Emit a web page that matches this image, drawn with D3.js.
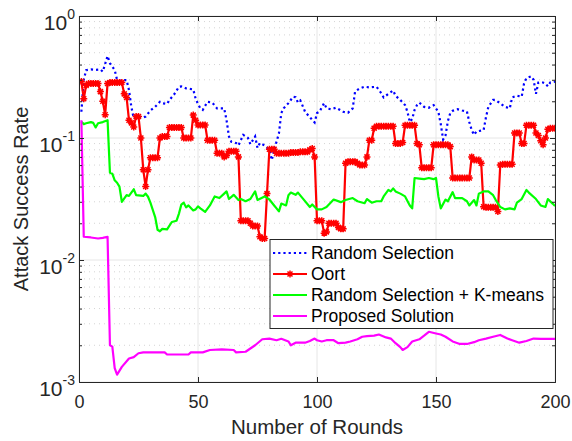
<!DOCTYPE html>
<html>
<head>
<meta charset="utf-8">
<script src="https://cdn.jsdelivr.net/npm/d3@7"></script>
<style>
  body { margin: 0; background: #fff; }
  svg { font-family: "Liberation Sans", Arial, sans-serif; }
</style>
</head>
<body>
<svg id="vis" width="572" height="441"></svg>
<script>
// rounds 1..200
let roundsAll = d3.range(1, 201);

let randRounds = [1,2,3,5,7,9,10,12,13,15,16,17,19,20,21,22,23,25,27,28,30,32,34,35,37,38,40,42,43,45,48,49,50,51,52,54,56,58,61,62,63,64,66,67,69,71,72,74,75,76,78,80,81,82,84,85,86,88,90,91,92,93,95,97,99,100,101,103,104,106,108,111,113,115,116,117,118,120,122,125,127,128,130,132,133,135,137,138,139,140,141,142,143,145,147,148,149,151,152,153,154,155,156,157,159,161,163,164,165,166,167,169,170,171,172,174,175,177,179,181,182,184,186,187,188,190,191,192,193,195,196,197,198,200];
let randValues = [0.164,0.30,0.36,0.365,0.362,0.365,0.35,0.47,0.41,0.36,0.30,0.295,0.298,0.298,0.247,0.18,0.145,0.15,0.147,0.15,0.168,0.18,0.198,0.193,0.19,0.205,0.228,0.263,0.265,0.255,0.25,0.21,0.19,0.175,0.17,0.198,0.195,0.175,0.175,0.14,0.103,0.093,0.091,0.087,0.106,0.1,0.089,0.103,0.083,0.091,0.087,0.08,0.066,0.08,0.109,0.16,0.175,0.193,0.218,0.216,0.195,0.203,0.164,0.148,0.134,0.16,0.164,0.193,0.175,0.172,0.177,0.164,0.161,0.175,0.24,0.248,0.255,0.263,0.26,0.263,0.233,0.215,0.23,0.245,0.222,0.205,0.186,0.164,0.135,0.143,0.17,0.186,0.195,0.18,0.177,0.183,0.186,0.164,0.13,0.097,0.105,0.138,0.16,0.167,0.172,0.168,0.165,0.135,0.116,0.106,0.113,0.115,0.116,0.148,0.18,0.205,0.205,0.192,0.18,0.175,0.215,0.222,0.218,0.28,0.31,0.32,0.30,0.23,0.285,0.285,0.28,0.265,0.285,0.29];

let oortValues = [
  0.29,0.21,0.27,0.28,0.28,0.28,0.28,0.28,0.24,0.2,
  0.155,0.28,0.285,0.285,0.285,0.285,0.285,0.285,0.23,0.215,
  0.14,0.133,0.123,0.15,0.15,0.1,0.055,0.04,0.055,0.069,
  0.069,0.069,0.069,0.1,0.103,0.103,0.103,0.122,0.122,0.122,
  0.122,0.122,0.122,0.1,0.1,0.1,0.1,0.154,0.14,0.128,
  0.128,0.128,0.128,0.096,0.096,0.096,0.096,0.075,0.075,0.075,
  0.07,0.072,0.078,0.078,0.078,0.078,0.07,0.021,0.021,0.021,
  0.021,0.02,0.019,0.019,0.019,0.0155,0.015,0.015,0.035,0.081,
  0.081,0.081,0.075,0.075,0.075,0.075,0.075,0.075,0.076,0.076,
  0.076,0.076,0.077,0.077,0.077,0.077,0.08,0.082,0.07,0.021,
  0.021,0.021,0.0166,0.017,0.02,0.02,0.02,0.02,0.0185,0.018,
  0.018,0.062,0.064,0.064,0.064,0.064,0.062,0.06,0.06,0.06,
  0.07,0.096,0.096,0.12,0.125,0.125,0.125,0.125,0.125,0.125,
  0.125,0.125,0.09,0.09,0.09,0.092,0.127,0.127,0.127,0.127,
  0.127,0.09,0.088,0.057,0.057,0.057,0.057,0.057,0.088,0.088,
  0.088,0.088,0.088,0.088,0.088,0.085,0.047,0.047,0.047,0.047,
  0.047,0.047,0.047,0.047,0.07,0.066,0.066,0.066,0.062,0.0273,
  0.027,0.027,0.027,0.027,0.027,0.025,0.06,0.061,0.061,0.061,
  0.061,0.061,0.11,0.11,0.11,0.09,0.09,0.127,0.127,0.127,
  0.127,0.11,0.105,0.095,0.088,0.1,0.118,0.12,0.12,0.12
];

let kmRounds = [1,2,3,5,6,7,8,10,12,13,14,15,16,17,18,20,21,23,24,27,28,29,30,32,33,34,35,37,39,41,42,43,44,45,46,48,49,50,51,53,55,57,59,61,62,63,65,67,68,70,72,74,75,78,80,82,83,84,85,87,88,89,91,92,94,97,98,100,102,104,107,110,112,115,117,120,121,123,125,127,128,130,131,132,133,135,137,139,140,141,143,145,147,149,150,151,152,154,155,157,158,161,163,164,166,167,168,170,172,174,175,177,179,181,183,184,186,188,189,192,194,196,197,199,200];
let kmValues = [0.136,0.13,0.132,0.135,0.133,0.122,0.132,0.135,0.14,0.052,0.051,0.045,0.043,0.04,0.03,0.034,0.0335,0.038,0.034,0.0335,0.035,0.033,0.0295,0.0225,0.0177,0.0172,0.018,0.0178,0.0205,0.021,0.024,0.0285,0.0295,0.027,0.028,0.0255,0.026,0.0275,0.0265,0.0248,0.028,0.0332,0.0322,0.035,0.0365,0.0316,0.0342,0.031,0.0316,0.0303,0.0316,0.0365,0.031,0.0332,0.0313,0.028,0.0265,0.025,0.029,0.028,0.034,0.0357,0.0342,0.0357,0.032,0.0272,0.0285,0.026,0.026,0.0272,0.0313,0.0298,0.031,0.0322,0.0303,0.0292,0.0316,0.0295,0.0303,0.0303,0.0332,0.0375,0.0365,0.0386,0.0365,0.035,0.0332,0.028,0.0265,0.047,0.0465,0.046,0.047,0.046,0.047,0.0332,0.0265,0.0313,0.0303,0.036,0.0322,0.0322,0.0303,0.028,0.031,0.028,0.035,0.0365,0.0365,0.034,0.0313,0.0272,0.026,0.0265,0.026,0.0295,0.0316,0.0375,0.0357,0.0316,0.028,0.0272,0.0316,0.029,0.0277];

let propRounds = [1,2,5,8,10,12,13,14,15,16,18,21,23,25,27,36,37,46,47,52,55,60,65,66,70,74,77,80,83,85,88,89,91,95,97,99,100,102,104,107,109,112,114,117,119,121,124,126,129,131,133,135,136,138,140,143,145,147,150,152,154,157,160,163,166,168,171,174,177,180,182,185,188,191,194,200];
let propValues = [0.14,0.0155,0.0153,0.015,0.0152,0.0155,0.002,0.00195,0.0013,0.00115,0.00133,0.00156,0.0016,0.00172,0.00175,0.00175,0.00168,0.00168,0.00175,0.00175,0.00183,0.00185,0.00183,0.00175,0.00177,0.002,0.00224,0.00227,0.0022,0.00226,0.00215,0.002,0.0021,0.0021,0.00217,0.00227,0.0022,0.00215,0.0022,0.0022,0.00208,0.0021,0.00215,0.00224,0.00235,0.00238,0.0024,0.00245,0.00232,0.00227,0.00208,0.00193,0.00183,0.00193,0.00215,0.00224,0.0024,0.00258,0.0025,0.00245,0.00235,0.00215,0.00205,0.00205,0.00212,0.0022,0.00227,0.00235,0.00243,0.00227,0.0022,0.0021,0.00217,0.00227,0.00226,0.00226];

let xTicks = [0, 50, 100, 150, 200];
let yDecades = [1e-3, 1e-2, 1e-1, 1];
let yExponents = ["-3", "-2", "-1", "0"];
let legendNames = ["Random Selection", "Oort", "Random Selection + K-means", "Proposed Solution"];

function draw() {
    let margin = { top: 16, right: 17, bottom: 59, left: 79 };
    let svg = d3.select("#vis");
    let width = +svg.attr("width") - margin.left - margin.right;
    let height = +svg.attr("height") - margin.top - margin.bottom;
    let axisColor = "#262626";

    let x = d3.scaleLinear().domain([0, 200]).range([0, width]);
    let y = d3.scaleLog().domain([1e-3, 1]).range([height, 0]);

    let g = svg.append("g").attr("transform", `translate(${margin.left}, ${margin.top})`);

    let minorVals = [];
    yDecades.slice(0, 3).forEach(d => {
        for (let k = 2; k <= 9; k++) minorVals.push(d * k);
    });

    // grid
    g.append("g").selectAll("line").data(minorVals).enter().append("line")
        .attr("x1", 0).attr("x2", width)
        .attr("y1", d => y(d)).attr("y2", d => y(d))
        .attr("stroke", "#d4d4d4").attr("stroke-width", 1)
        .attr("stroke-dasharray", "1,4");
    g.append("g").selectAll("line").data(yDecades).enter().append("line")
        .attr("x1", 0).attr("x2", width)
        .attr("y1", d => y(d)).attr("y2", d => y(d))
        .attr("stroke", "#e6e6e6").attr("stroke-width", 1);
    g.append("g").selectAll("line").data(xTicks).enter().append("line")
        .attr("x1", d => x(d)).attr("x2", d => x(d))
        .attr("y1", 0).attr("y2", height)
        .attr("stroke", "#e6e6e6").attr("stroke-width", 1);

    svg.append("defs").append("clipPath").attr("id", "clip")
        .append("rect").attr("width", width).attr("height", height);

    let plot = g.append("g").attr("clip-path", "url(#clip)");

    let line = d3.line().x(d => x(d[0])).y(d => y(d[1]));

    let randData = randRounds.map((r, i) => [r, randValues[i]]);
    let oortData = roundsAll.map((r, i) => [r, oortValues[i]]);
    let kmData = kmRounds.map((r, i) => [r, kmValues[i]]);
    let propData = propRounds.map((r, i) => [r, propValues[i]]);

    plot.append("path").datum(randData)
        .attr("d", line).attr("fill", "none")
        .attr("stroke", "#0000ff").attr("stroke-width", 2.2)
        .attr("stroke-dasharray", "2.2,3");

    plot.append("path").datum(oortData)
        .attr("d", line).attr("fill", "none")
        .attr("stroke", "#ff0000").attr("stroke-width", 2.2)
        .attr("stroke-linejoin", "round");

    let star = "M-3.5,0H3.5M0,-3.5V3.5M-2.5,-2.5L2.5,2.5M-2.5,2.5L2.5,-2.5";
    plot.append("g").selectAll("path").data(oortData).enter().append("path")
        .attr("transform", d => `translate(${x(d[0])},${y(d[1])})`)
        .attr("d", star).attr("fill", "none")
        .attr("stroke", "#ff0000").attr("stroke-width", 1.5);

    plot.append("path").datum(kmData)
        .attr("d", line).attr("fill", "none")
        .attr("stroke", "#00ff00").attr("stroke-width", 2.2)
        .attr("stroke-linejoin", "round");

    plot.append("path").datum(propData)
        .attr("d", line).attr("fill", "none")
        .attr("stroke", "#ff00ff").attr("stroke-width", 2.2)
        .attr("stroke-linejoin", "round");

    // axes (ticks point inward, box on)
    let xb = g.append("g").attr("transform", `translate(0, ${height})`)
        .call(d3.axisBottom(x).tickValues(xTicks).tickSize(-5).tickPadding(13));
    let xt = g.append("g")
        .call(d3.axisTop(x).tickValues(xTicks).tickSize(-5).tickFormat(""));
    let yl = g.append("g")
        .call(d3.axisLeft(y).tickValues(yDecades).tickSize(-5).tickFormat(""));
    let ylm = g.append("g")
        .call(d3.axisLeft(y).tickValues(minorVals).tickSize(-3).tickFormat(""));
    let yr = g.append("g").attr("transform", `translate(${width}, 0)`)
        .call(d3.axisRight(y).tickValues(yDecades).tickSize(-5).tickFormat(""));
    let yrm = g.append("g").attr("transform", `translate(${width}, 0)`)
        .call(d3.axisRight(y).tickValues(minorVals).tickSize(-3).tickFormat(""));

    [xb, xt, yl, ylm, yr, yrm].forEach(a => {
        a.selectAll(".domain").attr("stroke", axisColor);
        a.selectAll(".tick line").attr("stroke", axisColor);
    });
    ylm.select(".domain").remove();
    yrm.select(".domain").remove();
    xb.selectAll("text").attr("font-size", 18).attr("fill", axisColor)
        .attr("font-family", "Liberation Sans, Arial, sans-serif");

    // y tick labels 10^k
    let ylab = g.append("g").selectAll("text").data(yDecades).enter().append("text")
        .attr("x", -4).attr("y", d => y(d) + 13.5)
        .attr("text-anchor", "end").attr("fill", axisColor);
    ylab.append("tspan").attr("font-size", 21).text("10");
    ylab.append("tspan").attr("font-size", 14).attr("dy", -10.5)
        .text((d, i) => yExponents[i]);

    g.append("text")
        .attr("x", width / 2).attr("y", height + 52)
        .attr("text-anchor", "middle").attr("font-size", 20.5).attr("fill", axisColor)
        .text("Number of Rounds");

    g.append("text")
        .attr("transform", `translate(-51, ${height / 2}) rotate(-90)`)
        .attr("text-anchor", "middle").attr("font-size", 20).attr("fill", axisColor)
        .text("Attack Success Rate");

    // legend
    let lg = svg.append("g").attr("transform", "translate(270, 239.5)");
    lg.append("rect").attr("width", 283).attr("height", 89)
        .attr("fill", "#fff").attr("stroke", axisColor).attr("stroke-width", 1);
    let colors = ["#0000ff", "#ff0000", "#00ff00", "#ff00ff"];
    legendNames.forEach((name, i) => {
        let yy = 13.5 + i * 21;
        let l = lg.append("line").attr("x1", 3).attr("x2", 37)
            .attr("y1", yy).attr("y2", yy)
            .attr("stroke", colors[i]).attr("stroke-width", 2.2);
        if (i == 0) l.attr("stroke-dasharray", "2.2,3");
        if (i == 1) {
            lg.append("path").attr("transform", `translate(20, ${yy})`)
                .attr("d", star).attr("fill", "none")
                .attr("stroke", "#ff0000").attr("stroke-width", 1.5);
        }
        lg.append("text").attr("x", 41).attr("y", yy + 6)
            .attr("font-size", 17.5).attr("fill", "#000").text(name);
    });
}

document.addEventListener('DOMContentLoaded', () => {
    draw();
});
</script>
</body>
</html>
